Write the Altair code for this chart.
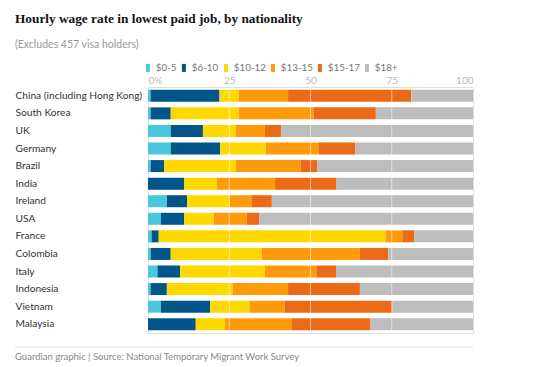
import altair as alt
import pandas as pd

countries = ["China (including Hong Kong)", "South Korea", "UK", "Germany", "Brazil",
             "India", "Ireland", "USA", "France", "Colombia", "Italy", "Indonesia",
             "Vietnam", "Malaysia"]
bands = ["$0-5", "$6-10", "$10-12", "$13-15", "$15-17", "$18+"]
colors = ["#4bc6df", "#005689", "#ffd800", "#ff9b0b", "#ea6a15", "#bdbdbd"]

v_0_5 =   [0.8, 0.8, 7.0, 7.0, 0.8, 0.0, 5.8, 4.0, 1.1, 0.8, 2.9, 0.8, 4.0, 0.0]
v_6_10 =  [21.2, 6.2, 9.9, 15.2, 4.2, 11.1, 6.2, 7.1, 2.2, 6.2, 7.0, 5.0, 15.1, 14.7]
v_10_12 = [5.9, 20.9, 10.1, 14.0, 22.0, 10.0, 13.2, 9.1, 69.8, 28.0, 26.1, 20.2, 12.1, 9.0]
v_13_15 = [15.2, 23.0, 9.0, 16.4, 20.0, 18.0, 6.8, 10.2, 5.2, 30.2, 16.0, 17.1, 10.8, 20.6]
v_15_17 = [37.9, 19.2, 5.0, 11.2, 5.0, 18.9, 6.1, 3.8, 3.6, 8.7, 6.0, 22.1, 33.2, 24.0]
v_18 =    [19.0, 29.9, 59.0, 36.2, 48.0, 42.0, 61.9, 65.8, 18.1, 26.1, 42.0, 34.8, 24.8, 31.7]

tick_values = [0, 25, 50, 75, 100]
grid_values = [25, 50, 75]

series = [v_0_5, v_6_10, v_10_12, v_13_15, v_15_17, v_18]
rows = []
for bi, (band, vals) in enumerate(zip(bands, series)):
    for c, v in zip(countries, vals):
        rows.append({"country": c, "band": band, "value": v, "order": bi})
df = pd.DataFrame(rows)

W, H = 325, 246
FONT = "Lato"

bars = alt.Chart(df).mark_bar(size=12).encode(
    x=alt.X("value:Q", stack="zero",
            scale=alt.Scale(domain=[0, 100], nice=False),
            axis=alt.Axis(orient="top", values=tick_values, title=None,
                          labelExpr="datum.value == 0 ? '0%' : datum.label",
                          labelFlush=True, labelColor="#bbbbbb", labelFontSize=10,
                          labelFont=FONT, labelPadding=2,
                          ticks=False, domain=False, grid=False)),
    y=alt.Y("country:N", sort=countries, title=None,
            scale=alt.Scale(paddingInner=0.32, paddingOuter=0.16),
            axis=alt.Axis(labelAlign="left", labelPadding=133, ticks=False,
                          domain=False, labelColor="#333333", labelFontSize=10.2,
                          labelFont=FONT, labelLimit=200)),
    color=alt.Color("band:N", sort=bands,
                    scale=alt.Scale(domain=bands, range=colors),
                    legend=alt.Legend(orient="top", direction="horizontal", title=None,
                                      symbolType="M-0.5,-1H0.5V1H-0.5Z",
                                      symbolSize=64, symbolStrokeWidth=0,
                                      labelColor="#767676", labelFontSize=9.8,
                                      labelFont=FONT, columnPadding=4, labelOffset=3,
                                      gridAlign="none",
                                      symbolOffset=-5, offset=2)),
    order=alt.Order("order:Q"),
)

grid = alt.Chart(pd.DataFrame({"g": grid_values})).mark_rule(
    color="white", strokeWidth=1, opacity=0.55
).encode(x=alt.X("g:Q"))

rule = alt.Chart(pd.DataFrame({"a": [0]})).mark_rule(color="#e0e0e0", strokeWidth=1).encode(
    x=alt.value(-133), x2=alt.value(W), y=alt.value(H + 14)
)
footer = alt.Chart(pd.DataFrame({"t": ["Guardian graphic | Source: National Temporary Migrant Work Survey"]})).mark_text(
    align="left", baseline="middle", color="#888888", fontSize=9.5, font=FONT
).encode(x=alt.value(-133), y=alt.value(H + 24), text="t:N")

chart = alt.layer(bars, grid, rule, footer).properties(
    width=W, height=H,
    title=alt.TitleParams(
        "Hourly wage rate in lowest paid job, by nationality",
        subtitle="(Excludes 457 visa holders)",
        anchor="start", frame="group", dx=-133, offset=12,
        font="Liberation Serif", fontSize=13.3, fontWeight="bold", color="#121212",
        subtitleFont=FONT, subtitleFontSize=10.5, subtitleColor="#999999",
        subtitlePadding=15,
    ),
    autosize=alt.AutoSizeParams(type="none"),
    padding={"left": 140, "top": 79, "right": 10, "bottom": 30},
).configure_view(stroke=None).configure(background="white")

chart.save("out.html", embed_options={"renderer": "svg", "actions": False})
